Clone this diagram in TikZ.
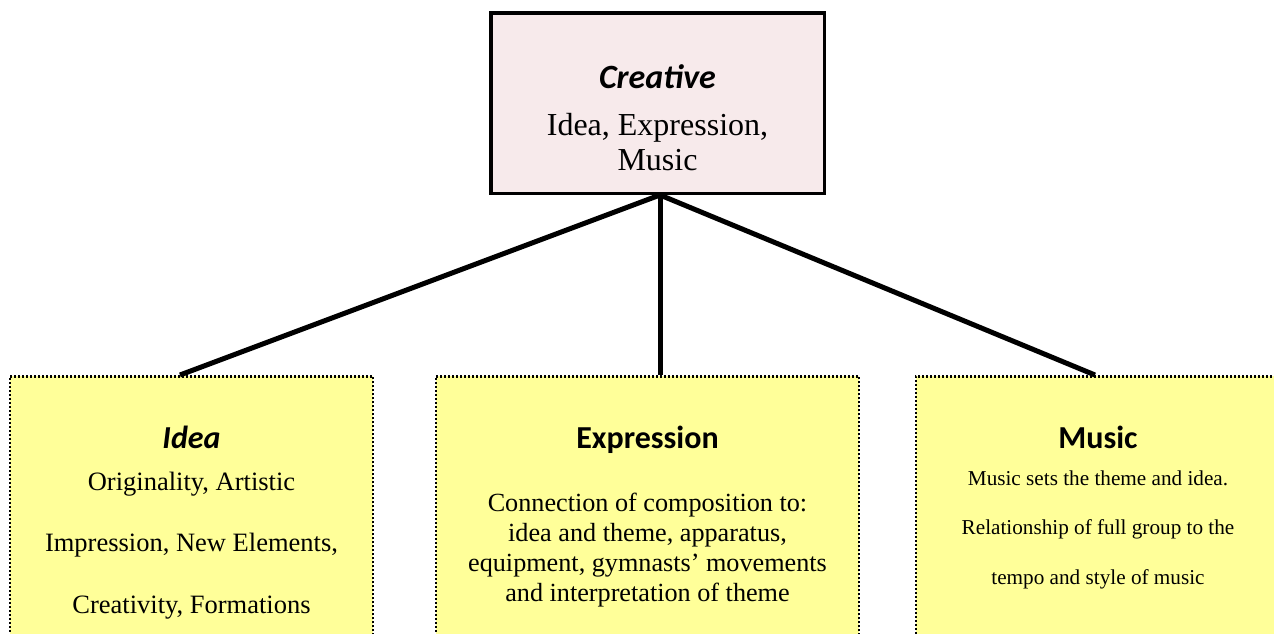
\documentclass[tikz,border=0pt]{standalone}
\usepackage{fontspec}
\setmainfont{Liberation Serif}
\newfontfamily\headfont{Carlito}
\usetikzlibrary{positioning}
\definecolor{rootfill}{RGB}{247,234,235}
\definecolor{leaffill}{RGB}{255,255,153}
\newcommand\headsize{\fontsize{32}{38}\selectfont}

\begin{document}
\begin{tikzpicture}[
  x=1pt, y=-1pt,
  root/.style={draw, line width=3.5pt, fill=rootfill, minimum width=333.5pt, minimum height=180.5pt, inner sep=0pt},
  leaf/.style={draw, line width=2.5pt, dash pattern=on 2pt off 2pt, fill=leaffill, anchor=north, minimum height=300pt, inner sep=0pt},
  head/.style={anchor=base, inner sep=0pt, font=\headfont\bfseries\headsize},
  body/.style={anchor=base, align=center, inner sep=0pt},
  link/.style={line width=5pt}
]
  \useasboundingbox (0,0) rectangle (1274,633);
  \clip (0,0) rectangle (1274,633);

  % root box (body nodes sit on the baseline of their last line)
  \node[root] (top) at (657.5,103) {};
  \node[head, font=\headfont\bfseries\itshape\fontsize{34}{40}\selectfont] (top-head) at (657.5,88) {Creative};
  \node[body, font=\fontsize{32}{35}\selectfont] (top-text) at (657.5,170) {Idea, Expression,\\Music};

  % three branches
  \node[leaf, minimum width=363pt] (idea) at (191.5,375) {};
  \node[leaf, minimum width=423pt] (expr) at (647.5,375) {};
  \node[leaf, minimum width=364pt] (music) at (1098,375) {};

  \node[head] (idea-head) at (191.5,448) {\itshape Idea};
  \node[body, font=\fontsize{26.5}{61.5}\selectfont] (idea-text) at (191.5,613)
    {Originality, Artistic\\Impression, New Elements,\\Creativity, Formations};

  \node[head] (expr-head) at (647.5,448) {Expression};
  \node[body, font=\fontsize{26.2}{30}\selectfont] (expr-text) at (647.5,601)
    {Connection of composition to:\\idea and theme, apparatus,\\equipment, gymnasts’ movements\\and interpretation of theme};

  \node[head] (music-head) at (1098,448) {Music};
  \node[body, font=\fontsize{21.2}{49.5}\selectfont] (music-text) at (1098,584)
    {Music sets the theme and idea.\\Relationship of full group to the\\tempo and style of music};

  \draw[link] ([xshift=2.5pt]top.south) -- ([xshift=-11.5pt]idea.north);
  \draw[link] ([xshift=2.5pt]top.south) -- ([xshift=12.5pt]expr.north);
  \draw[link] ([xshift=2.5pt]top.south) -- ([xshift=-3pt]music.north);
\end{tikzpicture}
\end{document}
